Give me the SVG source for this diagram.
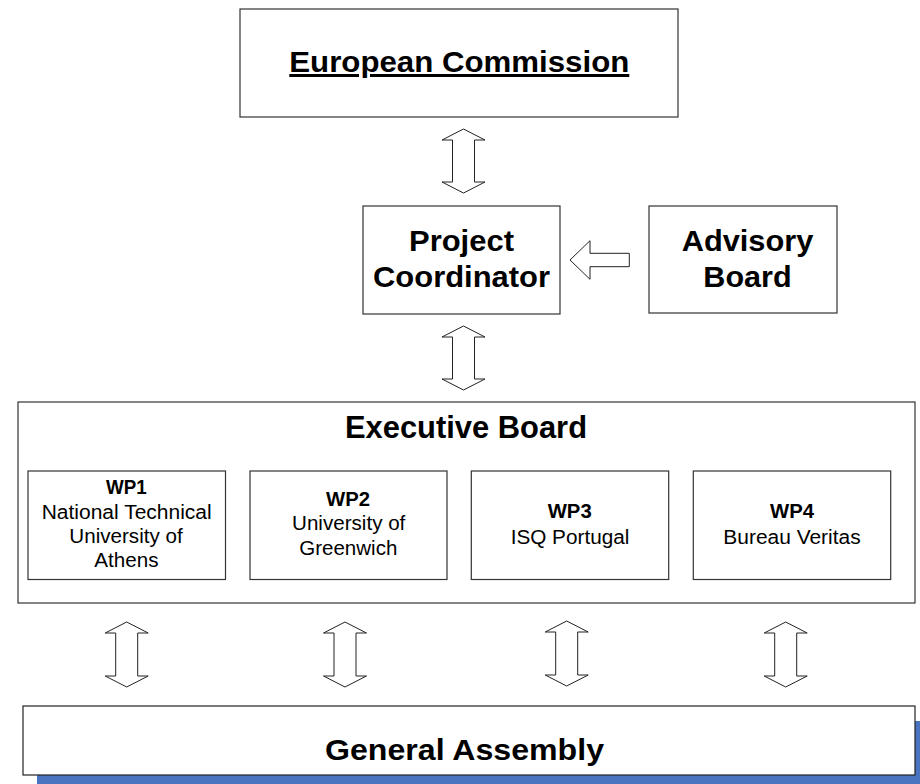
<svg xmlns="http://www.w3.org/2000/svg" width="920" height="784" viewBox="0 0 920 784">
<style>
.box{fill:#fff;stroke:#333;stroke-width:1.2}
.arr{fill:#fff;stroke:#222;stroke-width:1}
text{font-family:"Liberation Sans",Arial,sans-serif;fill:#000;text-anchor:middle}
.big{font-weight:bold;font-size:30px}
.wpt{font-weight:bold;font-size:19.5px}
.wp{font-size:19.5px}
</style>
<rect width="920" height="784" fill="#fff"/>
<g id="european-commission">
<rect class="box" x="240" y="9" width="438" height="108"/>
<text class="big" x="459.3" y="72" textLength="340" lengthAdjust="spacingAndGlyphs" text-decoration="underline">European Commission</text>
</g>
<g id="project-coordinator">
<rect class="box" x="363" y="206" width="197" height="108"/>
<text class="big" x="461.5" y="251" textLength="105" lengthAdjust="spacingAndGlyphs">Project</text>
<text class="big" x="461.5" y="287.3" textLength="177" lengthAdjust="spacingAndGlyphs">Coordinator</text>
</g>
<g id="advisory-board">
<rect class="box" x="649" y="206" width="188" height="107"/>
<text class="big" x="747.5" y="251" textLength="131.6" lengthAdjust="spacingAndGlyphs">Advisory</text>
<text class="big" x="747.5" y="287.3" textLength="88.3" lengthAdjust="spacingAndGlyphs">Board</text>
</g>
<g id="executive-board">
<rect class="box" x="18" y="402" width="897" height="201"/>
<text class="big" x="466" y="438.3" style="font-size:31px" textLength="242" lengthAdjust="spacingAndGlyphs">Executive Board</text>
</g>
<g id="wp1">
<rect class="box" x="28" y="471" width="197.5" height="108.5"/>
<text class="wpt" x="126.3" y="494" textLength="40.7" lengthAdjust="spacingAndGlyphs">WP1</text>
<text class="wp" x="126.7" y="519" textLength="170" lengthAdjust="spacingAndGlyphs">National Technical</text>
<text class="wp" x="126" y="543.3" textLength="113.3" lengthAdjust="spacingAndGlyphs">University of</text>
<text class="wp" x="126.5" y="567.3" textLength="64.3" lengthAdjust="spacingAndGlyphs">Athens</text>
</g>
<g id="wp2">
<rect class="box" x="250" y="471" width="197" height="108.5"/>
<text class="wpt" x="348" y="505.7" textLength="44" lengthAdjust="spacingAndGlyphs">WP2</text>
<text class="wp" x="348.7" y="530" textLength="113.3" lengthAdjust="spacingAndGlyphs">University of</text>
<text class="wp" x="348.3" y="555" textLength="98" lengthAdjust="spacingAndGlyphs">Greenwich</text>
</g>
<g id="wp3">
<rect class="box" x="471.3" y="471" width="197.4" height="108.5"/>
<text class="wpt" x="569.7" y="518.3" textLength="44" lengthAdjust="spacingAndGlyphs">WP3</text>
<text class="wp" x="570" y="544" textLength="118.7" lengthAdjust="spacingAndGlyphs">ISQ Portugal</text>
</g>
<g id="wp4">
<rect class="box" x="693.3" y="471" width="197.4" height="108.5"/>
<text class="wpt" x="792" y="518.3" textLength="44" lengthAdjust="spacingAndGlyphs">WP4</text>
<text class="wp" x="792" y="544" textLength="137.3" lengthAdjust="spacingAndGlyphs">Bureau Veritas</text>
</g>
<g id="general-assembly">
<rect x="37" y="721" width="900" height="80" fill="#4a74bf"/>
<rect class="box" x="23" y="706" width="892" height="69" style="stroke:#222"/>
<text class="big" x="464.5" y="760" textLength="279" lengthAdjust="spacingAndGlyphs">General Assembly</text>
</g>
<g id="connectors">
<polygon class="arr" points="463.5,129 485,140 474.5,140 474.5,182 485,182 463.5,193 442,182 452.5,182 452.5,140 442,140"/>
<polygon class="arr" points="463.5,326 485,337 474.5,337 474.5,379 485,379 463.5,390 442,379 452.5,379 452.5,337 442,337"/>
<polygon class="arr" points="570,260 590,240.7 590,253.3 629.3,253.3 629.3,266.7 590,266.7 590,279.3"/>
<polygon class="arr" points="126.7,622 148.2,633 137.7,633 137.7,676 148.2,676 126.7,687 105.2,676 115.7,676 115.7,633 105.2,633"/>
<polygon class="arr" points="345,622 366.5,633 356,633 356,676 366.5,676 345,687 323.5,676 334,676 334,633 323.5,633"/>
<polygon class="arr" points="566.7,621 588.2,632 577.7,632 577.7,675 588.2,675 566.7,686 545.2,675 555.7,675 555.7,632 545.2,632"/>
<polygon class="arr" points="785.7,622 807.2,633 796.7,633 796.7,676 807.2,676 785.7,687 764.2,676 774.7,676 774.7,633 764.2,633"/>
</g>
</svg>
